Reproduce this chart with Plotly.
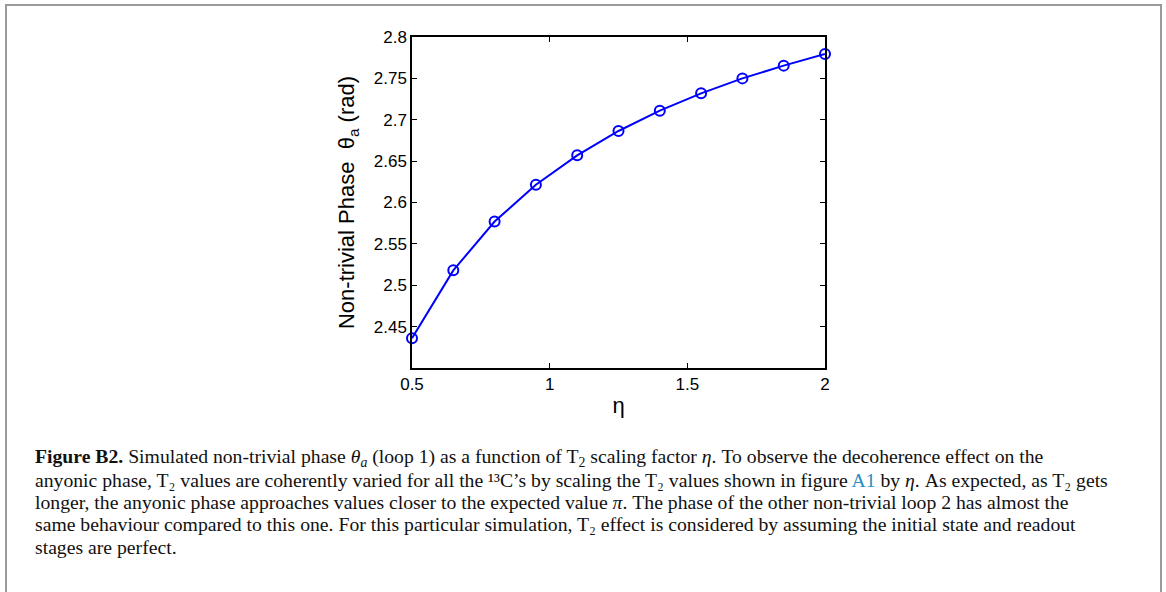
import plotly.graph_objects as go

# ---- data ----
eta = [0.5, 0.65, 0.8, 0.95, 1.1, 1.25, 1.4, 1.55, 1.7, 1.85, 2.0]
phase = [2.436, 2.518, 2.577, 2.6215, 2.657, 2.6864, 2.711, 2.7319, 2.750, 2.7654, 2.7795]

x_ticks = [0.5, 1, 1.5, 2]
x_tick_labels = ["0.5", "1", "1.5", "2"]
y_ticks = [2.45, 2.5, 2.55, 2.6, 2.65, 2.7, 2.75, 2.8]
y_tick_labels = ["2.45", "2.5", "2.55", "2.6", "2.65", "2.7", "2.75", "2.8"]

caption_lines = [
    "<b>Figure B2.</b> Simulated non-trivial phase <i>θ<sub>a</sub></i> (loop 1) as a function of T<sub>2</sub> scaling factor <i>η</i>. To observe the decoherence effect on the",
    "anyonic phase, T₂ values are coherently varied for all the ¹³C’s by scaling the T₂ values shown in figure <span style='color:#2b8cc4'>A1</span> by <i>η</i>. As expected, as T₂ gets",
    "longer, the anyonic phase approaches values closer to the expected value <i>π</i>. The phase of the other non-trivial loop 2 has almost the",
    "same behaviour compared to this one. For this particular simulation, T₂ effect is considered by assuming the initial state and readout",
    "stages are perfect.",
]

# ---- layout geometry (pixels) ----
W, H = 1166, 592
L, R, T, B = 412, 341, 37, 224
pw, ph = W - L - R, H - T - B


def px_x(px):
    return (px - L) / pw


def px_y(py):
    return 1 - (py - T) / ph


fig = go.Figure()
fig.add_trace(go.Scatter(
    x=eta, y=phase, mode="lines+markers",
    line=dict(color="#0000ff", width=2),
    marker=dict(symbol="circle-open", size=10, color="#0000ff", line=dict(width=2, color="#0000ff")),
    showlegend=False, cliponaxis=False,
))

axis_common = dict(
    showgrid=False, zeroline=False, showline=True, linecolor="black", linewidth=1.5,
    mirror="ticks", ticks="inside", ticklen=5, tickwidth=1, tickcolor="black",
    tickfont=dict(family="Liberation Sans, Arial", size=17, color="black"),
)

fig.update_xaxes(
    range=[0.5, 2], tickvals=x_ticks, ticktext=x_tick_labels,
    title=dict(text="η", font=dict(family="Liberation Sans, Arial", size=22, color="black"), standoff=4),
    **axis_common,
)
fig.update_yaxes(
    range=[2.4, 2.8], tickvals=y_ticks, ticktext=y_tick_labels,
    title=dict(text="Non-trivial Phase  θ<sub>a</sub> (rad)",
               font=dict(family="Liberation Sans, Arial", size=22, color="black"), standoff=13),
    **axis_common,
)

annotations = []
line_y = [457, 480, 502, 524, 547]
for txt, yy in zip(caption_lines, line_y):
    annotations.append(dict(
        text=txt, xref="paper", yref="paper", x=px_x(33), y=px_y(yy),
        xanchor="left", yanchor="middle", showarrow=False, align="left",
        font=dict(family="Liberation Serif, Times New Roman, serif", size=19.7, color="#111111"),
    ))

shapes = [dict(
    type="rect", xref="paper", yref="paper",
    x0=px_x(6), x1=px_x(1161), y0=px_y(5), y1=px_y(620),
    line=dict(color="#9a9a9a", width=2), fillcolor="rgba(0,0,0,0)", layer="below",
)]

fig.update_layout(
    width=W, height=H, autosize=False,
    margin=dict(l=L, r=R, t=T, b=B, pad=0),
    paper_bgcolor="white", plot_bgcolor="white",
    annotations=annotations, shapes=shapes,
)

fig.write_html(
    "out.html",
    config={"displayModeBar": False},
    post_script="document.body.style.margin='0';document.body.style.overflow='hidden';",
)
